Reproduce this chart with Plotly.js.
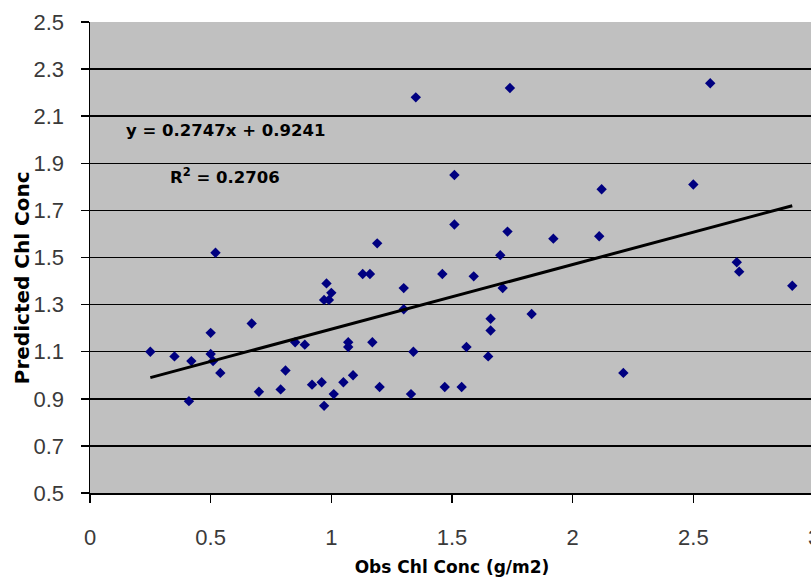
<!DOCTYPE html>
<html>
<head>
<meta charset="utf-8">
<script src="https://cdn.plot.ly/plotly-3.0.1.min.js"></script>
<style>
html, body { margin: 0; padding: 0; background: #ffffff; overflow: hidden; }
#chart { width: 830px; height: 580px; }
</style>
</head>
<body>
<div id="chart"></div>
<script>
var obsChl = [0.25, 0.35, 0.41, 0.42, 0.50, 0.50, 0.51, 0.54, 0.52, 0.67,
              0.70, 0.79, 0.81, 0.85, 0.89, 0.92, 0.96, 0.97, 1.01, 1.05,
              1.09, 1.07, 1.07, 1.17, 1.20, 0.98, 1.00, 0.97, 0.99, 1.13,
              1.16, 1.19, 1.30, 1.30, 1.33, 1.34, 1.35, 1.46, 1.47, 1.51,
              1.51, 1.54, 1.56, 1.59, 1.65, 1.66, 1.66, 1.70, 1.71, 1.73,
              1.74, 1.83, 1.92, 2.11, 2.12, 2.21, 2.50, 2.57, 2.68, 2.69,
              2.91];
var predChl = [1.10, 1.08, 0.89, 1.06, 1.18, 1.09, 1.06, 1.01, 1.52, 1.22,
               0.93, 0.94, 1.02, 1.14, 1.13, 0.96, 0.97, 0.87, 0.92, 0.97,
               1.00, 1.14, 1.12, 1.14, 0.95, 1.39, 1.35, 1.32, 1.32, 1.43,
               1.43, 1.56, 1.37, 1.28, 0.92, 1.10, 2.18, 1.43, 0.95, 1.85,
               1.64, 0.95, 1.12, 1.42, 1.08, 1.24, 1.19, 1.51, 1.37, 1.61,
               2.22, 1.26, 1.58, 1.59, 1.79, 1.01, 1.81, 2.24, 1.48, 1.44,
               1.38];
// Linear trendline end points (as drawn in the reference)
var trendX = [0.25, 2.91];
var trendY = [0.99, 1.72];
// Texts
var eqText = 'y = 0.2747x + 0.9241';
var r2Text = 'R<sup>2</sup> = 0.2706';
var xTitle = 'Obs Chl Conc (g/m2)';
var yTitle = 'Predicted Chl Conc';
// Axis ticks
var xTicks = [0, 0.5, 1, 1.5, 2, 2.5, 3];
var yTicks = [0.5, 0.7, 0.9, 1.1, 1.3, 1.5, 1.7, 1.9, 2.1, 2.3, 2.5];

var tickFont = {family: '"Liberation Sans Narrow", "Arial Narrow", "Liberation Sans", Arial, sans-serif', size: 22, color: '#3a3a3a'};
var boldFont = {family: '"DejaVu Sans", sans-serif', weight: 700, color: '#000000'};

var data = [
  {
    x: obsChl, y: predChl, type: 'scatter', mode: 'markers',
    marker: {symbol: 'diamond', size: 8, color: '#000080', line: {width: 0}},
    hoverinfo: 'x+y', showlegend: false
  },
  {
    x: trendX, y: trendY, type: 'scatter', mode: 'lines',
    line: {color: '#000000', width: 3},
    hoverinfo: 'skip', showlegend: false
  }
];

var layout = {
  width: 830, height: 580,
  margin: {l: 90, r: 16, t: 22, b: 87},
  paper_bgcolor: '#ffffff',
  plot_bgcolor: '#c0c0c0',
  xaxis: {
    range: [0, 3], tickvals: xTicks, ticktext: xTicks.map(String),
    ticks: 'outside', ticklen: 8, tickwidth: 1.5, tickcolor: '#000',
    showline: true, linecolor: '#000', linewidth: 1.5,
    showgrid: false, zeroline: false,
    tickfont: tickFont, ticklabelstandoff: 16, ticklabeloverflow: 'allow',
    title: {text: xTitle, font: Object.assign({size: 17}, boldFont), standoff: 12}
  },
  yaxis: {
    range: [0.5, 2.5], tickvals: yTicks, ticktext: yTicks.map(function(v){return v.toFixed(1);}),
    ticks: 'outside', ticklen: 8, tickwidth: 1.5, tickcolor: '#000',
    showline: true, linecolor: '#000', linewidth: 1.5,
    showgrid: true, gridcolor: '#000000', gridwidth: 1.5, zeroline: false,
    tickfont: tickFont, ticklabelstandoff: 12
  },
  annotations: [
    {x: -0.094, y: 0.458, xref: 'paper', yref: 'paper', text: yTitle, textangle: -90,
     showarrow: false, xanchor: 'center', yanchor: 'middle', font: Object.assign({size: 20}, boldFont)},
    {x: 0.139, y: 2.038, xref: 'x', yref: 'y', text: eqText, showarrow: false,
     xanchor: 'left', yanchor: 'middle', font: Object.assign({size: 16.5}, boldFont)},
    {x: 0.325, y: 1.845, xref: 'x', yref: 'y', text: r2Text, showarrow: false,
     xanchor: 'left', yanchor: 'middle', font: Object.assign({size: 16.5}, boldFont)}
  ]
};

Plotly.newPlot('chart', data, layout, {displayModeBar: false, staticPlot: true});
</script>
</body>
</html>
